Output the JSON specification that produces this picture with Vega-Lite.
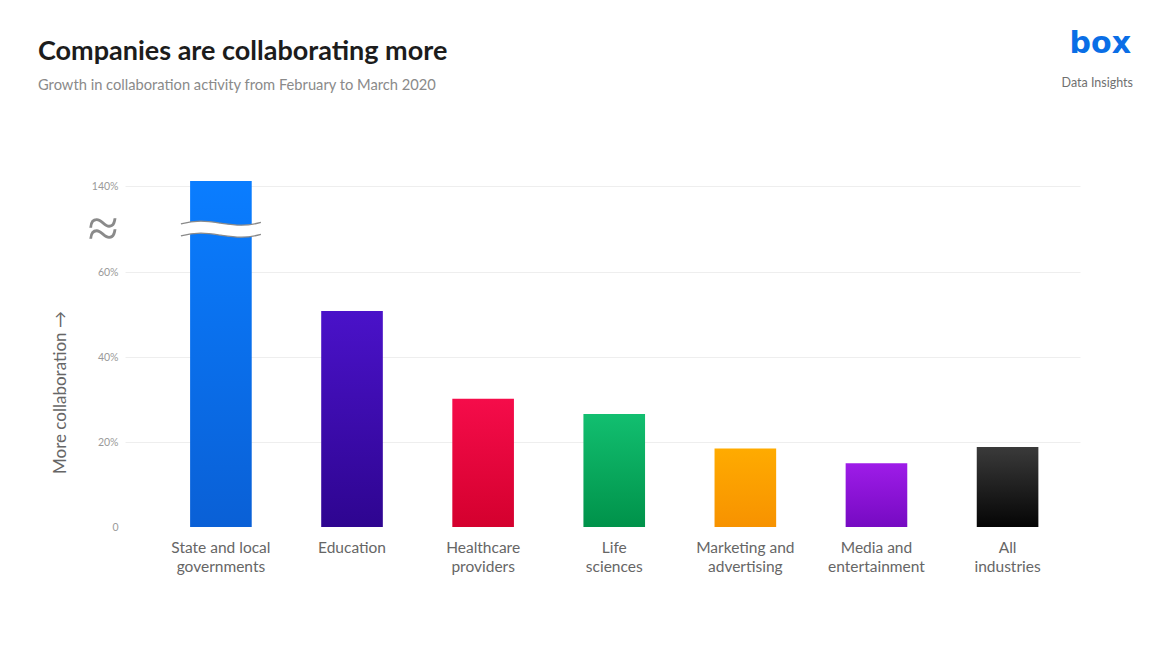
{
  "$schema": "https://vega.github.io/schema/vega-lite/v6.json",
  "autosize": "none",
  "width": 955,
  "height": 346,
  "padding": {"left": 125, "top": 181, "right": 71, "bottom": 124},
  "background": "white",
  "config": {"view": {"stroke": null}, "font": "Lato"},
  "title": {
    "text": "Companies are collaborating more",
    "subtitle": "Growth in collaboration activity from February to March 2020",
    "anchor": "start",
    "frame": "group",
    "dx": -87,
    "offset": -65,
    "font": "Lato",
    "fontSize": 27,
    "fontWeight": "bold",
    "color": "#1c1c1c",
    "subtitleFont": "Lato",
    "subtitleFontSize": 14.7,
    "subtitleColor": "#8a8a8a",
    "subtitlePadding": 12
  },
  "data": {
    "values": [
      {"category": "State and local\ngovernments", "value": 145},
      {"category": "Education", "value": 50.8},
      {"category": "Healthcare\nproviders", "value": 30.2},
      {"category": "Life\nsciences", "value": 26.6},
      {"category": "Marketing and\nadvertising", "value": 18.5},
      {"category": "Media and\nentertainment", "value": 15.0},
      {"category": "All\nindustries", "value": 18.8}
    ]
  },
  "encoding": {
    "x": {
      "field": "category",
      "type": "nominal",
      "sort": null,
      "scale": {"paddingInner": 0.53, "paddingOuter": 0.407, "align": 0.61},
      "axis": {
        "title": null,
        "labelAngle": 0,
        "domain": false,
        "ticks": false,
        "labelPadding": 13,
        "labelFont": "Lato",
        "labelFontSize": 15.5,
        "labelColor": "#666666",
        "labelLineHeight": 19,
        "labelExpr": "split(datum.label, '\\n')"
      }
    },
    "y": {
      "field": "value",
      "type": "quantitative",
      "scale": {"domain": [0, 60, 145], "range": [346, 91, 0], "nice": false, "zero": false},
      "axis": {
        "values": [0, 20, 40, 60, 100, 140],
        "labelExpr": "datum.value == 0 ? '0' : datum.value == 100 ? '≈' : datum.value + '%'",
        "labelFontSize": {"condition": {"test": "datum.value == 100", "value": 56}, "value": 10.5},
        "labelFont": {"condition": {"test": "datum.value == 100", "value": "DejaVu Sans"}, "value": "Lato"},
        "labelFontWeight": {"condition": {"test": "datum.value == 100", "value": 200}, "value": "normal"},
        "labelColor": {"condition": {"test": "datum.value == 100", "value": "#8a8a8a"}, "value": "#9a9a9a"},
        "labelPadding": 7,
        "domain": false,
        "ticks": false,
        "grid": true,
        "gridColor": "#eeeeee",
        "gridOpacity": {"condition": {"test": "datum.value == 0 || datum.value == 100", "value": 0}, "value": 1},
        "title": "More collaboration →",
        "titleFont": "Lato",
        "titleFontSize": 17,
        "titleFontWeight": "normal",
        "titleColor": "#666666",
        "titleAngle": -90,
        "titleAlign": "center",
        "titleBaseline": "middle",
        "titleX": -65,
        "titleY": 211
      }
    }
  },
  "layer": [
    {
      "transform": [{"filter": {"field": "category", "equal": "State and local\ngovernments"}}],
      "mark": {"type": "bar", "color": {"gradient": "linear", "x1": 0, "y1": 0, "x2": 0, "y2": 1, "stops": [{"offset": 0, "color": "#0a7dff"}, {"offset": 1, "color": "#0a60d6"}]}}
    },
    {
      "transform": [{"filter": {"field": "category", "equal": "Education"}}],
      "mark": {"type": "bar", "color": {"gradient": "linear", "x1": 0, "y1": 0, "x2": 0, "y2": 1, "stops": [{"offset": 0, "color": "#4a12c9"}, {"offset": 1, "color": "#2e0590"}]}}
    },
    {
      "transform": [{"filter": {"field": "category", "equal": "Healthcare\nproviders"}}],
      "mark": {"type": "bar", "color": {"gradient": "linear", "x1": 0, "y1": 0, "x2": 0, "y2": 1, "stops": [{"offset": 0, "color": "#f50c4a"}, {"offset": 1, "color": "#d4002e"}]}}
    },
    {
      "transform": [{"filter": {"field": "category", "equal": "Life\nsciences"}}],
      "mark": {"type": "bar", "color": {"gradient": "linear", "x1": 0, "y1": 0, "x2": 0, "y2": 1, "stops": [{"offset": 0, "color": "#12bf70"}, {"offset": 1, "color": "#00924a"}]}}
    },
    {
      "transform": [{"filter": {"field": "category", "equal": "Marketing and\nadvertising"}}],
      "mark": {"type": "bar", "color": {"gradient": "linear", "x1": 0, "y1": 0, "x2": 0, "y2": 1, "stops": [{"offset": 0, "color": "#ffab00"}, {"offset": 1, "color": "#f79200"}]}}
    },
    {
      "transform": [{"filter": {"field": "category", "equal": "Media and\nentertainment"}}],
      "mark": {"type": "bar", "color": {"gradient": "linear", "x1": 0, "y1": 0, "x2": 0, "y2": 1, "stops": [{"offset": 0, "color": "#9e1ce8"}, {"offset": 1, "color": "#760ac2"}]}}
    },
    {
      "transform": [{"filter": {"field": "category", "equal": "All\nindustries"}}],
      "mark": {"type": "bar", "color": {"gradient": "linear", "x1": 0, "y1": 0, "x2": 0, "y2": 1, "stops": [{"offset": 0, "color": "#3a3a3a"}, {"offset": 1, "color": "#050505"}]}}
    },
    {
      "transform": [{"filter": {"field": "category", "equal": "State and local\ngovernments"}}],
      "mark": {
        "type": "point",
        "shape": "M-1,-0.13 C-0.6,-0.24 -0.35,-0.2 0,-0.15 C0.35,-0.1 0.6,-0.06 1,-0.17 L1,0.13 C0.6,0.24 0.35,0.2 0,0.15 C-0.35,0.1 -0.6,0.06 -1,0.17 Z",
        "filled": true,
        "fill": "white",
        "stroke": null,
        "opacity": 1,
        "size": 6400
      },
      "encoding": {"y": {"datum": 100}}
    },
    {
      "transform": [{"filter": {"field": "category", "equal": "State and local\ngovernments"}}],
      "mark": {
        "type": "point",
        "shape": "M-1,-0.13 C-0.6,-0.24 -0.35,-0.2 0,-0.15 C0.35,-0.1 0.6,-0.06 1,-0.17 M-1,0.17 C-0.6,0.06 -0.35,0.1 0,0.15 C0.35,0.2 0.6,0.24 1,0.13",
        "filled": false,
        "stroke": "#8a8a8a",
        "strokeWidth": 1.3,
        "opacity": 1,
        "size": 6400
      },
      "encoding": {"y": {"datum": 100}}
    },
    {
      "data": {"values": [{"label": "box"}]},
      "mark": {"type": "text", "align": "right", "baseline": "alphabetic", "font": "DejaVu Sans", "fontSize": 30, "fontWeight": "bold", "color": "#0a6ee6"},
      "encoding": {"x": {"value": 1006}, "y": {"value": -128}, "text": {"field": "label"}}
    },
    {
      "data": {"values": [{"label": "Data Insights"}]},
      "mark": {"type": "text", "align": "right", "baseline": "alphabetic", "font": "Lato", "fontSize": 12.5, "color": "#707070"},
      "encoding": {"x": {"value": 1008}, "y": {"value": -94}, "text": {"field": "label"}}
    }
  ]
}
